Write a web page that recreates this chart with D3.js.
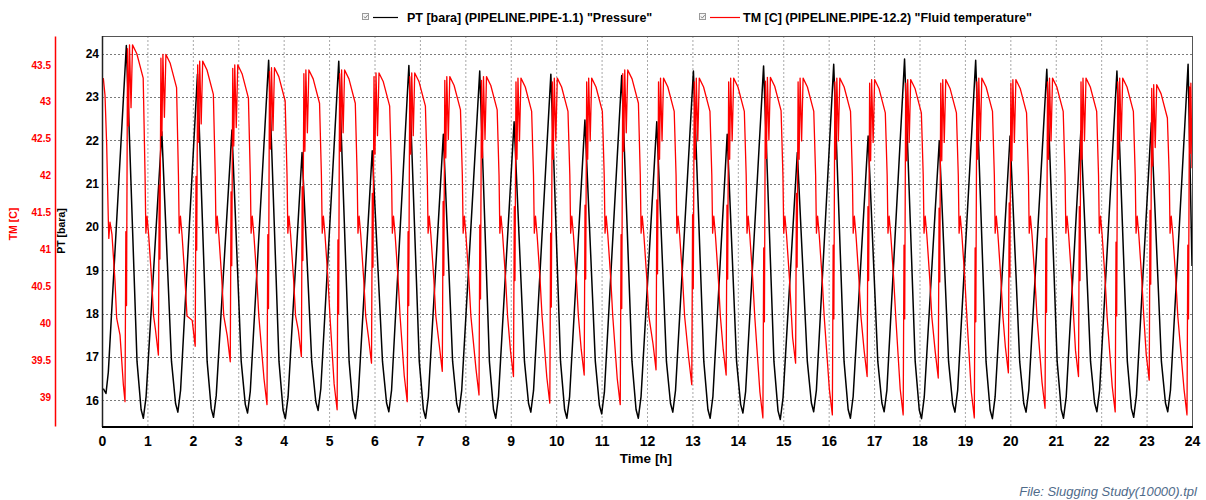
<!DOCTYPE html>
<html><head><meta charset="utf-8">
<script src="https://cdn.jsdelivr.net/npm/d3@7"></script>
<style>
body{margin:0;background:#fff;}
text{font-family:"Liberation Sans",Arial,sans-serif;}
</style>
</head><body>
<svg id="chart" width="1206" height="500"></svg>
<script>
// ---------- data ----------
const hourTicks = [0,1,2,3,4,5,6,7,8,9,10,11,12,13,14,15,16,17,18,19,20,21,22,23,24];
const ptTicks = [16,17,18,19,20,21,22,23,24];
const tmTicks = [39,39.5,40,40.5,41,41.5,42,42.5,43,43.5];
const legendLabels = ['PT [bara] (PIPELINE.PIPE-1.1) "Pressure"', 'TM [C] (PIPELINE.PIPE-12.2) "Fluid temperature"'];
const seriesColors = ['#000000', '#ff0000'];

// PT [bara] : [time h, value]
const ptSeries = [
[0.029,16.27],[0.088,16.16],[0.139,16.65],[0.536,24.19],[0.771,16.9],[0.861,15.79],[0.911,15.59],[0.971,16.09],
[1.317,22.2],[1.530,16.9],[1.620,15.93],[1.670,15.73],[1.730,16.23],[2.102,23.53],[2.315,16.9],[2.405,15.81],[2.455,15.61],[2.515,16.11],
[2.861,22.24],[3.065,16.9],[3.155,15.91],[3.205,15.71],[3.265,16.21],[3.669,23.85],[3.897,16.9],[3.987,15.78],[4.037,15.58],[4.097,16.08],
[4.405,21.72],[4.618,16.9],[4.708,15.97],[4.758,15.77],[4.818,16.27],[5.213,23.83],[5.441,16.9],[5.531,15.78],[5.581,15.58],[5.641,16.08],
[5.950,21.76],[6.176,16.9],[6.266,15.94],[6.316,15.74],[6.376,16.24],[6.757,23.73],[6.986,16.9],[7.076,15.79],[7.126,15.59],[7.186,16.09],
[7.516,22.14],[7.720,16.9],[7.810,15.93],[7.860,15.73],[7.920,16.23],[8.317,23.6],[8.530,16.9],[8.620,15.79],[8.670,15.59],[8.730,16.09],
[9.074,22.43],[9.302,16.9],[9.392,15.93],[9.442,15.73],[9.502,16.23],[9.883,23.53],[10.096,16.9],[10.186,15.79],[10.236,15.59],[10.296,16.09],
[10.633,22.47],[10.862,16.9],[10.952,15.89],[11.002,15.69],[11.062,16.19],[11.443,23.5],[11.669,16.9],[11.759,15.79],[11.809,15.59],[11.869,16.09],
[12.215,22.43],[12.428,16.9],[12.518,15.93],[12.568,15.73],[12.628,16.23],[13.022,23.6],[13.251,16.9],[13.341,15.79],[13.391,15.59],[13.451,16.09],
[13.766,22.14],[13.972,16.9],[14.062,15.91],[14.112,15.71],[14.172,16.21],[14.567,23.72],[14.795,16.9],[14.885,15.76],[14.935,15.56],[14.995,16.06],
[15.310,21.72],[15.530,16.9],[15.620,15.94],[15.670,15.74],[15.730,16.24],[16.111,23.76],[16.339,16.9],[16.429,15.79],[16.479,15.59],[16.539,16.09],
[16.869,22.1],[17.082,16.9],[17.172,15.94],[17.222,15.74],[17.282,16.24],[17.671,23.88],[17.905,16.9],[17.995,15.78],[18.045,15.58],[18.105,16.08],
[18.436,21.99],[18.640,16.9],[18.730,15.93],[18.780,15.73],[18.840,16.23],[19.237,23.85],[19.465,16.9],[19.555,15.78],[19.605,15.58],[19.665,16.08],
[19.994,22.1],[20.206,16.9],[20.296,15.93],[20.346,15.73],[20.406,16.23],[20.803,23.64],[21.031,16.9],[21.121,15.79],[21.171,15.59],[21.231,16.09],
[21.553,22.22],[21.766,16.9],[21.856,15.94],[21.906,15.74],[21.966,16.24],[22.347,23.6],[22.576,16.9],[22.666,15.81],[22.716,15.61],[22.776,16.11],
[23.104,22.41],[23.326,16.9],[23.416,15.94],[23.466,15.74],[23.526,16.24],[23.914,23.76],[24.0,19.1]
];

// TM [C] : [time h, value]
const tmSeries = [
[0.029,43.32],[0.066,43.09],[0.103,42.42],[0.140,41.38],[0.150,41.15],[0.176,41.37],[0.220,41.2],[0.286,40.57],[0.323,40.07],[0.397,39.84],[0.470,39.17],
[0.507,38.94],[0.525,41.24],[0.540,40.24],[0.562,43.72],[0.584,42.67],[0.606,43.77],[0.639,42.92],[0.672,43.77],[0.767,43.65],[0.907,43.32],[0.948,42.0],[0.966,41.22],[0.992,41.45],[1.027,41.2],[1.092,40.6],[1.136,40.1],[1.176,39.92],
[1.242,39.57],[1.260,41.87],[1.275,40.87],[1.297,43.59],[1.319,42.54],[1.341,43.64],[1.374,42.79],[1.407,43.64],[1.502,43.52],[1.642,43.19],[1.683,42.0],[1.701,41.22],[1.727,41.45],[1.762,41.2],[1.827,40.6],[1.871,40.1],[1.986,40.04],
[2.052,39.69],[2.070,41.99],[2.085,40.99],[2.107,43.5],[2.129,42.45],[2.151,43.55],[2.184,42.7],[2.217,43.55],[2.312,43.43],[2.452,43.1],[2.493,42.0],[2.511,41.22],[2.537,41.45],[2.572,41.2],[2.637,40.6],[2.681,40.1],[2.758,39.83],
[2.824,39.48],[2.842,41.78],[2.857,40.78],[2.879,43.45],[2.901,42.4],[2.923,43.5],[2.956,42.65],[2.989,43.5],[3.084,43.38],[3.224,43.05],[3.265,42.0],[3.283,41.22],[3.309,41.45],[3.344,41.2],[3.409,40.6],[3.453,40.1],[3.567,39.25],
[3.633,38.9],[3.651,41.2],[3.666,40.2],[3.688,43.41],[3.710,42.36],[3.732,43.46],[3.765,42.61],[3.798,43.46],[3.893,43.34],[4.033,43.01],[4.074,42.0],[4.092,41.22],[4.118,41.45],[4.153,41.2],[4.218,40.6],[4.262,40.1],[4.324,39.9],
[4.390,39.55],[4.408,41.85],[4.423,40.85],[4.445,43.38],[4.467,42.33],[4.489,43.43],[4.522,42.58],[4.555,43.43],[4.650,43.31],[4.790,42.98],[4.831,42.0],[4.849,41.22],[4.875,41.45],[4.910,41.2],[4.975,40.6],[5.019,40.1],[5.111,39.18],
[5.177,38.83],[5.195,41.13],[5.210,40.13],[5.232,43.38],[5.254,42.33],[5.276,43.43],[5.309,42.58],[5.342,43.43],[5.437,43.31],[5.577,42.98],[5.618,42.0],[5.636,41.22],[5.662,41.45],[5.697,41.2],[5.762,40.6],[5.806,40.1],[5.868,39.81],
[5.934,39.46],[5.952,41.76],[5.967,40.76],[5.989,43.34],[6.011,42.29],[6.033,43.39],[6.066,42.54],[6.099,43.39],[6.194,43.27],[6.334,42.94],[6.375,42.0],[6.393,41.22],[6.419,41.45],[6.454,41.2],[6.519,40.6],[6.563,40.1],[6.655,39.29],
[6.721,38.94],[6.739,41.24],[6.754,40.24],[6.776,43.34],[6.798,42.29],[6.820,43.39],[6.853,42.54],[6.886,43.39],[6.981,43.27],[7.121,42.94],[7.162,42.0],[7.180,41.22],[7.206,41.45],[7.241,41.2],[7.306,40.6],[7.350,40.1],[7.427,39.7],
[7.493,39.35],[7.511,41.65],[7.526,40.65],[7.548,43.29],[7.570,42.24],[7.592,43.34],[7.625,42.49],[7.658,43.34],[7.753,43.22],[7.893,42.89],[7.934,42.0],[7.952,41.22],[7.978,41.45],[8.013,41.2],[8.078,40.6],[8.122,40.1],[8.235,39.38],
[8.301,39.03],[8.319,41.33],[8.334,40.33],[8.356,43.29],[8.378,42.24],[8.400,43.34],[8.433,42.49],[8.466,43.34],[8.561,43.22],[8.701,42.89],[8.742,42.0],[8.760,41.22],[8.786,41.45],[8.821,41.2],[8.886,40.6],[8.930,40.1],[8.994,39.63],
[9.060,39.28],[9.078,41.58],[9.093,40.58],[9.115,43.27],[9.137,42.22],[9.159,43.32],[9.192,42.47],[9.225,43.32],[9.320,43.2],[9.460,42.87],[9.501,42.0],[9.519,41.22],[9.545,41.45],[9.580,41.2],[9.645,40.6],[9.689,40.1],[9.794,39.27],
[9.860,38.92],[9.878,41.22],[9.893,40.22],[9.915,43.27],[9.937,42.22],[9.959,43.32],[9.992,42.47],[10.025,43.32],[10.120,43.2],[10.260,42.87],[10.301,42.0],[10.319,41.22],[10.345,41.45],[10.380,41.2],[10.445,40.6],[10.489,40.1],[10.551,39.65],
[10.617,39.3],[10.635,41.6],[10.650,40.6],[10.672,43.27],[10.694,42.22],[10.716,43.32],[10.749,42.47],[10.782,43.32],[10.877,43.2],[11.017,42.87],[11.058,42.0],[11.076,41.22],[11.102,41.45],[11.137,41.2],[11.202,40.6],[11.246,40.1],[11.345,39.25],
[11.411,38.9],[11.429,41.2],[11.444,40.2],[11.466,43.38],[11.488,42.33],[11.510,43.43],[11.543,42.58],[11.576,43.43],[11.671,43.31],[11.811,42.98],[11.852,42.0],[11.870,41.22],[11.896,41.45],[11.931,41.2],[11.996,40.6],[12.040,40.1],[12.133,39.72],
[12.199,39.37],[12.217,41.67],[12.232,40.67],[12.254,43.27],[12.276,42.22],[12.298,43.32],[12.331,42.47],[12.364,43.32],[12.459,43.2],[12.599,42.87],[12.640,42.0],[12.658,41.22],[12.684,41.45],[12.719,41.2],[12.784,40.6],[12.828,40.1],[12.920,39.52],
[12.986,39.17],[13.004,41.47],[13.019,40.47],[13.041,43.27],[13.063,42.22],[13.085,43.32],[13.118,42.47],[13.151,43.32],[13.246,43.2],[13.386,42.87],[13.427,42.0],[13.445,41.22],[13.471,41.45],[13.506,41.2],[13.571,40.6],[13.615,40.1],[13.677,39.65],
[13.743,39.3],[13.761,41.6],[13.776,40.6],[13.798,43.27],[13.820,42.22],[13.842,43.32],[13.875,42.47],[13.908,43.32],[14.003,43.2],[14.143,42.87],[14.184,42.0],[14.202,41.22],[14.228,41.45],[14.263,41.2],[14.328,40.6],[14.372,40.1],[14.486,39.07],
[14.552,38.72],[14.570,41.02],[14.585,40.02],[14.607,43.28],[14.629,42.23],[14.651,43.33],[14.684,42.48],[14.717,43.33],[14.812,43.21],[14.952,42.88],[14.993,42.0],[15.011,41.22],[15.037,41.45],[15.072,41.2],[15.137,40.6],[15.181,40.1],[15.206,39.81],
[15.272,39.46],[15.290,41.76],[15.305,40.76],[15.327,43.27],[15.349,42.22],[15.371,43.32],[15.404,42.47],[15.437,43.32],[15.532,43.2],[15.672,42.87],[15.713,42.0],[15.731,41.22],[15.757,41.45],[15.792,41.2],[15.857,40.6],[15.901,40.1],[16.015,39.11],
[16.081,38.76],[16.099,41.06],[16.114,40.06],[16.136,43.27],[16.158,42.22],[16.180,43.32],[16.213,42.47],[16.246,43.32],[16.341,43.2],[16.481,42.87],[16.522,42.0],[16.540,41.22],[16.566,41.45],[16.601,41.2],[16.666,40.6],[16.710,40.1],[16.781,39.63],
[16.847,39.28],[16.865,41.58],[16.880,40.58],[16.902,43.25],[16.924,42.2],[16.946,43.3],[16.979,42.45],[17.012,43.3],[17.107,43.18],[17.247,42.85],[17.288,42.0],[17.306,41.22],[17.332,41.45],[17.367,41.2],[17.432,40.6],[17.476,40.1],[17.575,39.11],
[17.641,38.76],[17.659,41.06],[17.674,40.06],[17.696,43.25],[17.718,42.2],[17.740,43.3],[17.773,42.45],[17.806,43.3],[17.901,43.18],[18.041,42.85],[18.082,42.0],[18.100,41.22],[18.126,41.45],[18.161,41.2],[18.226,40.6],[18.270,40.1],[18.347,39.61],
[18.413,39.26],[18.431,41.56],[18.446,40.56],[18.468,43.25],[18.490,42.2],[18.512,43.3],[18.545,42.45],[18.578,43.3],[18.673,43.18],[18.813,42.85],[18.854,42.0],[18.872,41.22],[18.898,41.45],[18.933,41.2],[18.998,40.6],[19.042,40.1],[19.141,39.07],
[19.207,38.72],[19.225,41.02],[19.240,40.02],[19.262,43.27],[19.284,42.22],[19.306,43.32],[19.339,42.47],[19.372,43.32],[19.467,43.2],[19.607,42.87],[19.648,42.0],[19.666,41.22],[19.692,41.45],[19.727,41.2],[19.792,40.6],[19.836,40.1],[19.891,39.68],
[19.957,39.33],[19.975,41.63],[19.990,40.63],[20.012,43.25],[20.034,42.2],[20.056,43.3],[20.089,42.45],[20.122,43.3],[20.217,43.18],[20.357,42.85],[20.398,42.0],[20.416,41.22],[20.442,41.45],[20.477,41.2],[20.542,40.6],[20.586,40.1],[20.698,39.2],
[20.764,38.85],[20.782,41.15],[20.797,40.15],[20.819,43.27],[20.841,42.22],[20.863,43.32],[20.896,42.47],[20.929,43.32],[21.024,43.2],[21.164,42.87],[21.205,42.0],[21.223,41.22],[21.249,41.45],[21.284,41.2],[21.349,40.6],[21.393,40.1],[21.435,39.63],
[21.501,39.28],[21.519,41.58],[21.534,40.58],[21.556,43.27],[21.578,42.22],[21.600,43.32],[21.633,42.47],[21.666,43.32],[21.761,43.2],[21.901,42.87],[21.942,42.0],[21.960,41.22],[21.986,41.45],[22.021,41.2],[22.086,40.6],[22.130,40.1],[22.243,39.15],
[22.309,38.8],[22.327,41.1],[22.342,40.1],[22.364,43.27],[22.386,42.22],[22.408,43.32],[22.441,42.47],[22.474,43.32],[22.569,43.2],[22.709,42.87],[22.750,42.0],[22.768,41.22],[22.794,41.45],[22.829,41.2],[22.894,40.6],[22.938,40.1],[22.992,39.58],
[23.058,39.23],[23.076,41.53],[23.091,40.53],[23.113,43.18],[23.135,42.13],[23.157,43.23],[23.190,42.38],[23.223,43.23],[23.318,43.11],[23.458,42.78],[23.499,42.0],[23.517,41.22],[23.543,41.45],[23.578,41.2],[23.643,40.6],[23.687,40.1],[23.824,39.11],
[23.890,38.76],[23.908,41.06],[23.923,40.06],[23.945,43.2],[23.960,42.3],[23.975,43.25],[24.0,42.1]
];

// ---------- drawing ----------
const svg = d3.select('#chart');
const L = 102, R = 1192, T = 36, B = 426;
const x = d3.scaleLinear().domain([0, 24]).range([L, R]);
const yPT = d3.scaleLinear().domain([15.41, 24.41]).range([B, T]);
const yTM = d3.scaleLinear().domain([38.61, 43.89]).range([B, T]);

svg.append('defs').append('clipPath').attr('id', 'plotclip')
  .append('rect').attr('x', L).attr('y', T).attr('width', R - L).attr('height', B - T);

// grid
svg.append('g').selectAll('line').data(hourTicks.slice(1, -1)).join('line')
  .attr('x1', d => x(d) + 0.5).attr('x2', d => x(d) + 0.5)
  .attr('y1', T).attr('y2', B)
  .attr('stroke', '#a8a8a8').attr('stroke-width', 1).attr('stroke-dasharray', '2,2');
svg.append('g').selectAll('line').data(ptTicks).join('line')
  .attr('x1', L).attr('x2', R)
  .attr('y1', d => Math.round(yPT(d)) + 0.5).attr('y2', d => Math.round(yPT(d)) + 0.5)
  .attr('stroke', '#7a7a7a').attr('stroke-width', 1).attr('stroke-dasharray', '2,2');

// series
const lineGen = (ys) => d3.line().x(d => x(d[0])).y(d => ys(d[1]));
const plot = svg.append('g').attr('clip-path', 'url(#plotclip)');
plot.append('path').datum(ptSeries).attr('d', lineGen(yPT))
  .attr('fill', 'none').attr('stroke', seriesColors[0]).attr('stroke-width', 1.5).attr('stroke-linejoin', 'round');
plot.append('path').datum(tmSeries).attr('d', lineGen(yTM))
  .attr('fill', 'none').attr('stroke', seriesColors[1]).attr('stroke-width', 1.3).attr('stroke-linejoin', 'round');

// frame
svg.append('line').attr('x1', L).attr('x2', R).attr('y1', T + 0.5).attr('y2', T + 0.5).attr('stroke', '#555').attr('stroke-width', 1);
svg.append('line').attr('x1', R + 0.5).attr('x2', R + 0.5).attr('y1', T).attr('y2', B).attr('stroke', '#555').attr('stroke-width', 1);
svg.append('line').attr('x1', L + 0.5).attr('x2', L + 0.5).attr('y1', T).attr('y2', B + 1).attr('stroke', '#222').attr('stroke-width', 1.5);
svg.append('line').attr('x1', L).attr('x2', R + 1).attr('y1', B + 1).attr('y2', B + 1).attr('stroke', '#000').attr('stroke-width', 2);

// x axis
const xAxis = svg.append('g').attr('transform', `translate(0,${B + 2})`)
  .call(d3.axisBottom(x).tickValues(hourTicks).tickFormat(d3.format('d')).tickSize(0).tickPadding(8));
xAxis.select('.domain').remove();
xAxis.selectAll('text').attr('font-size', 14).attr('font-weight', 'bold').attr('fill', '#000')
  .attr('font-family', '"Liberation Sans", Arial, sans-serif');
svg.append('text').attr('x', 646).attr('y', 463).attr('text-anchor', 'middle')
  .attr('font-size', 13.5).attr('font-weight', 'bold').text('Time [h]');

// PT axis
const ptAxis = svg.append('g').attr('transform', `translate(${L - 2},0)`)
  .call(d3.axisLeft(yPT).tickValues(ptTicks).tickFormat(d3.format('d')).tickSize(0).tickPadding(1));
ptAxis.select('.domain').remove();
ptAxis.selectAll('text').attr('font-size', 12).attr('font-weight', 'bold').attr('fill', '#000')
  .attr('font-family', '"Liberation Sans", Arial, sans-serif');
svg.append('text').attr('transform', 'translate(65,231) rotate(-90)').attr('text-anchor', 'middle')
  .attr('font-size', 10.5).attr('font-weight', 'bold').attr('fill', '#000').text('PT [bara]');

// TM axis
const tmAxis = svg.append('g').attr('transform', 'translate(55,0)')
  .call(d3.axisLeft(yTM).tickValues(tmTicks).tickFormat(d => String(d)).tickSize(0).tickPadding(4));
tmAxis.select('.domain').attr('stroke', '#ff0000').attr('stroke-width', 1.5);
tmAxis.selectAll('text').attr('font-size', 10).attr('font-weight', 'bold').attr('fill', '#ff0000')
  .attr('font-family', '"Liberation Sans", Arial, sans-serif');
svg.append('text').attr('transform', 'translate(17,224) rotate(-90)').attr('text-anchor', 'middle')
  .attr('font-size', 10.5).attr('font-weight', 'bold').attr('fill', '#ff0000').text('TM [C]');

// legend
const legendItems = [
  {box: 362, l1: 373, l2: 398, tx: 407},
  {box: 699, l1: 710, l2: 740, tx: 743}
];
legendItems.forEach((it, i) => {
  const g = svg.append('g');
  g.append('rect').attr('x', it.box + 0.5).attr('y', 13.5).attr('width', 6).attr('height', 6)
    .attr('fill', '#f6f6f6').attr('stroke', '#9a9a9a').attr('stroke-width', 1);
  g.append('path').attr('d', `M${it.box + 2},${16.5} l1.3,1.6 l2.4,-3`).attr('fill', 'none')
    .attr('stroke', '#777').attr('stroke-width', 0.9);
  g.append('line').attr('x1', it.l1).attr('x2', it.l2).attr('y1', 17.5).attr('y2', 17.5)
    .attr('stroke', seriesColors[i]).attr('stroke-width', 1.2);
  g.append('text').attr('x', it.tx).attr('y', 22).attr('font-size', 12.5).attr('font-weight', 'bold')
    .attr('fill', '#000').text(legendLabels[i]);
});

// footer
svg.append('text').attr('x', 1197).attr('y', 496).attr('text-anchor', 'end')
  .attr('font-size', 13).attr('font-style', 'italic').attr('fill', '#4f6b8a')
  .text('File: Slugging Study(10000).tpl');
</script>
</body></html>
